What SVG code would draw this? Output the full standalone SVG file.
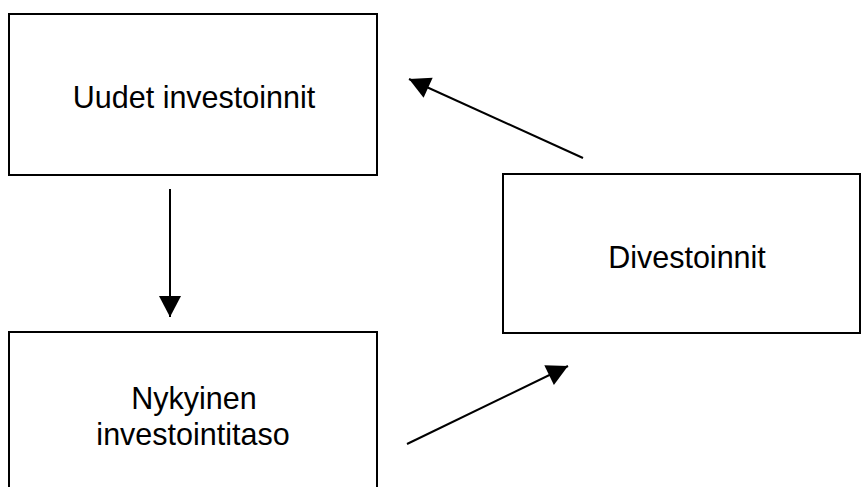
<svg xmlns="http://www.w3.org/2000/svg" width="862" height="487" viewBox="0 0 862 487">
<style>
.box{fill:#fff;stroke:#000;stroke-width:2}
.lbl{font-family:"Liberation Sans",Arial,sans-serif;font-size:30.5px;fill:#000;text-anchor:middle}
.conn{stroke:#000;stroke-width:2;fill:none;marker-end:url(#ah)}
</style>
<defs>
<marker id="ah" markerUnits="userSpaceOnUse" markerWidth="24" markerHeight="24" viewBox="0 -12 22 24" refX="21" refY="0" orient="auto">
<path d="M0,-11 L21,0 L0,11 z" fill="#000"/>
</marker>
</defs>
<rect width="862" height="487" fill="#fff"/>
<g id="uudet">
<rect class="box" x="9" y="14" width="368" height="161"/>
<text class="lbl" x="194" y="108">Uudet investoinnit</text>
</g>
<g id="divestoinnit">
<rect class="box" x="503" y="174" width="357" height="159"/>
<text class="lbl" x="687" y="268">Divestoinnit</text>
</g>
<g id="nykyinen">
<rect class="box" x="9" y="332" width="368" height="170"/>
<text class="lbl" x="194" y="409">Nykyinen</text>
<text class="lbl" x="193" y="445">investointitaso</text>
</g>
<g id="connectors">
<line class="conn" x1="170" y1="189" x2="170" y2="317"/>
<line class="conn" x1="583" y1="158" x2="409" y2="79"/>
<line class="conn" x1="407" y1="444" x2="568" y2="366"/>
</g>
</svg>
